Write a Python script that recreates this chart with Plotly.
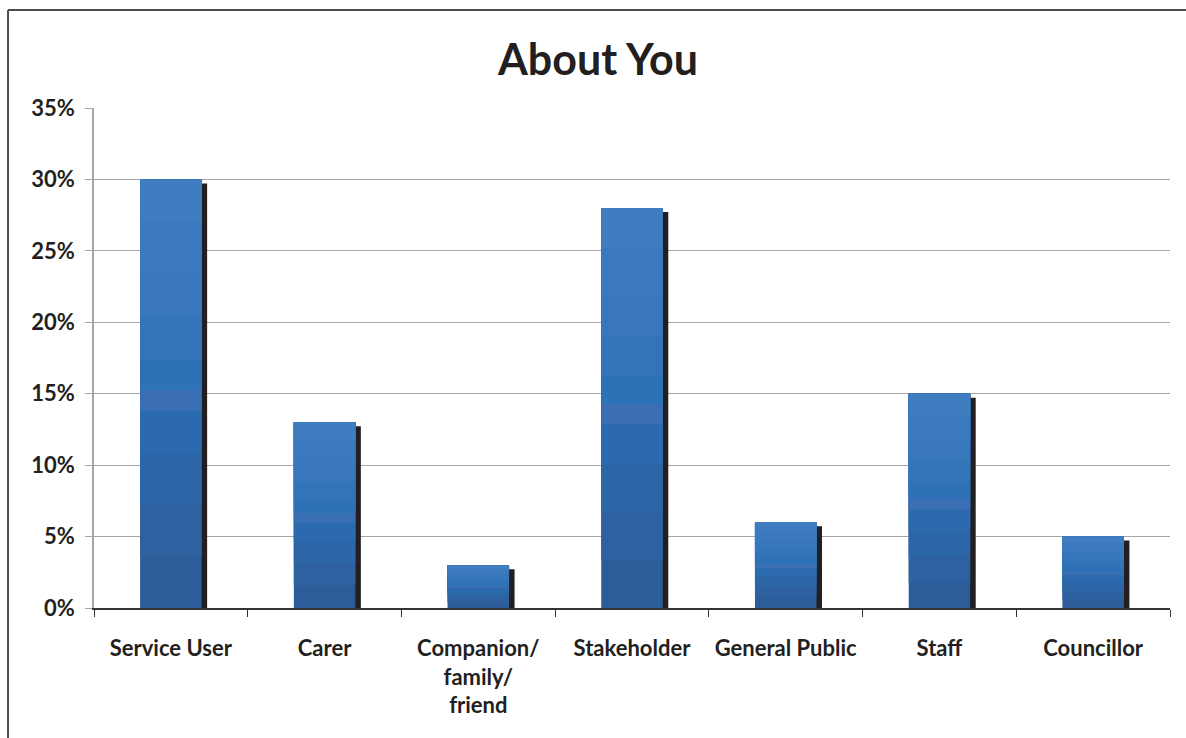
import plotly.graph_objects as go

categories = ["Service User", "Carer", "Companion/<br>family/<br>friend", "Stakeholder",
              "General Public", "Staff", "Councillor"]
values = [30, 13, 3, 28, 6, 15, 5]
y_ticks = [0, 5, 10, 15, 20, 25, 30, 35]
y_tick_labels = ["0%", "5%", "10%", "15%", "20%", "25%", "30%", "35%"]

# gradient bands (fraction where band starts, colour) bottom -> top
bands = [
    (0.00, "#2c5d98"), (0.12, "#2d619f"), (0.24, "#2d66a6"),
    (0.36, "#2b6aae"), (0.46, "#3a6fb4"), (0.51, "#2d71b7"),
    (0.58, "#3374b9"), (0.68, "#3877bc"), (0.78, "#3b79be"),
    (0.90, "#3f7cc0"),
]

BAR_W = 0.40
fig = go.Figure()

# drop shadow
fig.add_trace(go.Bar(
    x=categories, y=[v - 0.28 for v in values], width=BAR_W, offset=-BAR_W / 2 + 0.036,
    marker=dict(color="#231f20", line=dict(width=0)), hoverinfo="skip", showlegend=False))

for f0, col in bands:
    fig.add_trace(go.Bar(
        x=categories, y=[v * (1 - f0) for v in values], base=[v * f0 for v in values],
        width=BAR_W, offset=-BAR_W / 2,
        marker=dict(color=col, line=dict(width=0)), showlegend=False))

font_family = "Lato, 'Open Sans', sans-serif"
fig.update_layout(
    barmode="overlay",
    width=1186, height=738,
    margin=dict(l=94, r=16, t=108, b=130),
    paper_bgcolor="white", plot_bgcolor="white",
    font=dict(family=font_family, color="#231f20", size=22),
    title=dict(text="<b>About You</b>", x=0.5042, xanchor="center", y=0.9187, yanchor="middle",
               font=dict(size=43, family=font_family, color="#231f20")),
    xaxis=dict(type="category", tickson="boundaries", ticks="outside", ticklen=7,
               tickcolor="#333333", showline=True, linecolor="#333333", linewidth=1.5,
               showgrid=False, tickfont=dict(size=22, family=font_family, weight="bold"),
               ticklabelstandoff=20, range=[-0.5, 6.5]),
    yaxis=dict(range=[0, 35], tickvals=y_ticks, ticktext=y_tick_labels,
               ticks="outside", ticklen=7, tickcolor="#a6a6a6",
               showline=True, linecolor="#a6a6a6", linewidth=1.5,
               showgrid=True, gridcolor="#a6a6a6", gridwidth=1.2,
               tickfont=dict(size=22, family=font_family, weight="bold"), ticklabelstandoff=6,
               zeroline=False),
)

# chart frame (left and top edges)
fig.add_shape(type="line", xref="paper", yref="paper", x0=-0.0799, x1=1.03, y0=1.196, y1=1.196,
              line=dict(color="#4d4d4d", width=2))
fig.add_shape(type="line", xref="paper", yref="paper", x0=-0.0799, x1=-0.0799, y0=1.196, y1=-0.3,
              line=dict(color="#4d4d4d", width=2))

fig.write_html("out.html", config={"displayModeBar": False},
               post_script="document.body.style.margin='0';document.body.style.overflow='hidden';")
